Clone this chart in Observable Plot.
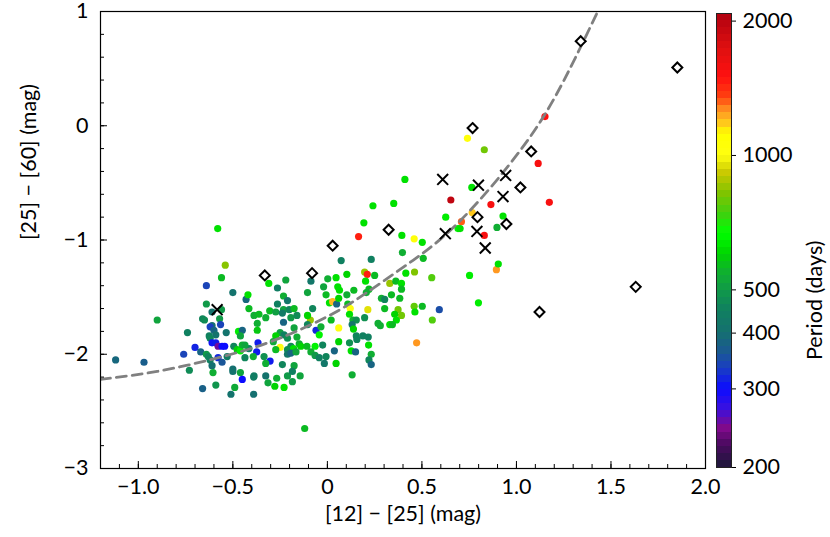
<!DOCTYPE html>
<html><head><meta charset="utf-8">
<script src="https://cdn.jsdelivr.net/npm/d3@7"></script>
<script src="https://cdn.jsdelivr.net/npm/@observablehq/plot@0.6"></script>
<style>
body{margin:0;background:#fff;}
#wrap{position:relative;width:830px;height:537px;}
#wrap svg{position:absolute;top:0;overflow:visible;}
</style></head><body><div id="wrap"></div>
<script>
// colored points: [12]-[25], [25]-[60], period (days)
const ptX = [-1.12,-0.97,-0.90,-0.58,-0.54,-0.56,-0.64,-0.50,-0.64,-0.43,-0.42,-0.61,-0.56,-0.66,-0.65,-0.57,-0.61,-0.62,-0.565,-0.60,
-0.74,-0.535,-0.625,-0.59,-0.47,-0.45,-0.46,-0.62,-0.61,-0.59,-0.578,-0.557,-0.543,-0.70,-0.495,-0.477,-0.46,-0.45,-0.67,-0.76,
-0.64,-0.63,-0.578,-0.53,-0.557,-0.62,-0.61,-0.50,-0.50,-0.605,-0.73,-0.46,-0.45,-0.59,-0.66,-0.49,-0.51,-0.39,-0.39,-0.12,
-0.31,-0.22,-0.264,-0.087,-0.232,-0.211,-0.105,-0.02,-0.264,-0.415,-0.305,-0.273,-0.232,-0.202,-0.176,-0.078,-0.388,-0.362,-0.326,-0.238,
-0.193,-0.161,-0.090,-0.105,-0.232,-0.371,-0.176,-0.105,-0.371,-0.25,-0.273,-0.229,-0.211,-0.161,-0.060,-0.034,-0.043,-0.367,-0.415,-0.436,
-0.286,-0.25,-0.273,-0.193,-0.149,-0.140,-0.211,-0.179,-0.108,-0.065,-0.374,-0.392,-0.335,-0.303,-0.211,-0.193,-0.166,-0.087,-0.065,-0.043,
-0.436,-0.326,-0.238,-0.176,-0.388,-0.326,-0.268,-0.211,-0.144,-0.185,-0.314,-0.278,-0.229,-0.185,
0.165,0.394,0.397,0.073,0.232,0.197,0.211,0.250,0.415,0.103,0.002,0.046,0.202,0.330,0.362,0.392,0.055,0.064,0.140,0.220,
0.206,0.392,-0.007,0.103,0.286,0.303,0.339,0.383,0.011,0.028,0.049,0.060,0.108,0.121,0.214,0.374,0.392,0.303,0.356,0.365,
0.330,0.268,0.280,0.344,0.020,0.117,0.135,0.153,0.197,0.131,0.138,0.060,0.153,0.156,0.188,0.216,0.060,0.117,0.218,-0.025,
0.037,0.126,0.149,0.232,0.220,-0.007,-0.016,0.046,0.232,0.131,
0.410,0.653,0.865,0.241,0.351,0.193,0.626,0.709,0.766,0.691,0.702,0.897,0.830,0.459,0.502,0.507,0.552,0.752,0.894,0.904,
0.592,0.555,0.799,0.472,1.151,0.741,0.830,1.115,1.174,0.764,0.929,0.461,0.502,0.459,0.463];
const ptY = [-2.05,-2.07,-1.70,-0.90,-1.22,-1.33,-1.40,-1.46,-1.56,-1.52,-1.48,-1.63,-1.61,-1.69,-1.70,-1.69,-1.75,-1.76,-1.74,-1.79,
-1.81,-1.81,-1.84,-1.83,-1.80,-1.79,-1.84,-1.86,-1.90,-1.90,-1.93,-1.93,-1.93,-1.94,-1.93,-1.96,-1.97,-1.92,-1.98,-2.00,
-2.00,-2.02,-2.03,-2.02,-2.07,-2.05,-2.10,-2.13,-2.15,-2.16,-2.14,-2.16,-2.22,-2.27,-2.30,-2.29,-2.35,-2.35,-2.20,-2.65,
-1.38,-1.35,-1.42,-1.36,-1.49,-1.53,-1.46,-1.41,-1.56,-1.60,-1.62,-1.63,-1.61,-1.61,-1.60,-1.60,-1.66,-1.65,-1.68,-1.64,
-1.68,-1.66,-1.70,-1.66,-1.72,-1.73,-1.77,-1.74,-1.79,-1.81,-1.84,-1.83,-1.86,-1.85,-1.79,-1.76,-1.83,-1.90,-1.95,-1.92,
-1.89,-1.94,-1.96,-1.93,-1.91,-1.93,-1.96,-1.95,-1.93,-1.93,-1.98,-2.02,-2.02,-2.06,-2.00,-1.99,-1.98,-1.98,-2.01,-2.03,
-2.03,-2.08,-2.09,-2.10,-2.19,-2.19,-2.21,-2.19,-2.19,-2.15,-2.25,-2.28,-2.29,-2.24,
-0.97,-0.96,-1.11,-1.18,-1.17,-1.28,-1.30,-1.31,-1.29,-1.30,-1.34,-1.33,-1.36,-1.38,-1.36,-1.38,-1.41,-1.44,-1.44,-1.43,
-1.46,-1.43,-1.48,-1.48,-1.51,-1.52,-1.48,-1.51,-1.55,-1.54,-1.56,-1.51,-1.56,-1.60,-1.61,-1.61,-1.66,-1.60,-1.65,-1.70,
-1.74,-1.73,-1.75,-1.74,-1.70,-1.65,-1.70,-1.70,-1.68,-1.74,-1.78,-1.77,-1.84,-1.87,-1.84,-1.85,-1.89,-1.90,-1.92,-1.92,
-1.97,-1.97,-1.98,-2.00,-2.05,-2.02,-2.08,-2.08,-2.09,-2.18,
-0.47,-0.65,-0.69,-0.70,-0.68,-0.85,-0.80,-0.84,-0.76,-0.90,-0.90,-0.89,-0.96,-0.99,-1.02,-1.16,-1.33,-1.31,-1.26,-1.21,
-1.61,-1.70,-1.55,-1.90,0.08,-0.11,-0.21,-0.33,-0.67,-0.54,-0.79,-1.28,-1.58,-1.58,-1.63];
const ptP = [385,370,520,620,830,560,340,410,500,385,620,410,500,460,470,500,400,335,340,380,
450,410,450,410,640,380,520,460,305,310,250,300,300,315,460,590,650,540,380,340,
500,460,320,440,360,450,400,400,405,540,470,520,300,490,375,530,410,400,440,560,
620,520,440,420,540,420,520,520,450,560,560,510,520,460,560,460,540,560,540,430,
500,470,850,600,380,540,520,460,580,510,600,450,480,540,320,540,650,310,450,520,
530,1000,560,470,540,600,480,620,560,650,310,540,480,310,420,380,520,540,500,450,
460,540,460,520,440,410,540,500,520,450,520,600,620,500,
1450,620,540,450,450,850,1450,560,620,600,540,620,620,850,560,620,620,620,560,560,
540,560,560,540,540,460,560,560,620,1200,380,600,560,1000,950,800,800,560,600,620,
620,540,540,560,560,620,540,480,480,420,600,1000,460,460,450,450,600,480,620,460,
380,620,380,540,460,460,420,600,380,540,
620,1950,1550,620,620,620,640,1320,1180,640,620,540,1550,1050,620,560,760,640,1250,620,
350,760,640,1250,1500,1050,800,1550,1550,620,620,820,560,780,620];

// open diamonds
const dmX = [-0.331,-0.081,0.028,0.324,0.768,1.078,1.021,0.794,0.947,1.340,1.851,1.631,1.122];
const dmY = [-1.31,-1.29,-1.05,-0.91,-0.02,-0.225,-0.54,-0.80,-0.86,0.74,0.51,-1.41,-1.63];
// crosses
const crX = [-0.583,0.610,0.799,0.943,0.929,0.624,0.791,0.835];
const crY = [-1.61,-0.47,-0.52,-0.435,-0.62,-0.945,-0.925,-1.07];
// dashed curve
const curveX = [-1.2,-0.9,-0.6,-0.3,0.0,0.2,0.4,0.6,0.8,1.0,1.2,1.43];
const curveY = [-2.22,-2.15,-2.04,-1.89,-1.67,-1.47,-1.24,-0.99,-0.66,-0.26,0.24,1.0];

// axis ticks
const xMajor = [-1,-0.5,0,0.5,1,1.5,2];
const yMajor = [-3,-2,-1,0,1];
const cbTicks = [200,300,400,500,1000,2000];
const cbDomain = [200,2080];

// colormap stops (period -> color)
const cStops = [200,225,245,270,300,335,365,400,450,500,545,600,670,740,820,910,1000,1120,1190,1262,1350,1500,1720,2080];
const cColors = ["#1c1838","#4a0a60","#800a8c","#3a10e0","#0c0cff","#1a40c0","#1a5a90","#157070","#108060","#109a48","#10b030","#00d400","#00ff00","#40d010","#80c400","#c8c800","#ffff10","#ffff00","#ffc020","#ff9020","#ff4010","#ff1010","#e01010","#b00010"];

const points = ptX.map((x,i)=>({x, y: ptY[i], p: ptP[i]}));
const diamonds = dmX.map((x,i)=>({x, y: dmY[i]}));
const crosses = crX.map((x,i)=>({x, y: crY[i]}));
const curve = curveX.map((x,i)=>({x, y: curveY[i]}));

const colorOpts = {type:"log", domain: cStops, range: cColors, interpolate: "rgb"};
const FONT = "Lato, 'DejaVu Sans', sans-serif";
const FS = 21.5;
const fmtX = d => d === 0 ? "0" : d.toFixed(1).replace("-", "\u2212");
const fmtY = d => String(d).replace("-", "\u2212");

const xMinor = d3.range(-12, 21).map(i => i / 10);
const yMinor = d3.range(-15, 6).map(i => i / 5);
const frameH = 537 - 11 - 69, frameW = 830 - 100 - 125;

const main = Plot.plot({
  width: 830, height: 537,
  marginLeft: 100, marginRight: 125, marginTop: 11, marginBottom: 69,
  x: {domain: [-1.2, 2.0]},
  y: {domain: [-3, 1]},
  color: colorOpts,
  style: {fontFamily: FONT, fontSize: FS + "px", color: "black", background: "white", overflow: "visible"},
  marks: [
    Plot.dot(points, {x: "x", y: "y", fill: "p", r: 3.6}),
    Plot.line(curve, {x: "x", y: "y", stroke: "#808080", strokeWidth: 2.8, strokeDasharray: "10,6", curve: "natural", clip: true}),
    Plot.dot(diamonds, {x: "x", y: "y", symbol: "diamond2", stroke: "black", fill: "white", strokeWidth: 2, r: 4.5}),
    Plot.dot(crosses, {x: "x", y: "y", symbol: "times", stroke: "black", strokeWidth: 2, r: 5}),
    Plot.tickX(xMinor, {x: d => d, insetTop: frameH - 4, stroke: "black", strokeWidth: 1}),
    Plot.tickX(xMajor, {x: d => d, insetTop: frameH - 7, stroke: "black", strokeWidth: 1}),
    Plot.tickY(yMinor, {y: d => d, insetRight: frameW - 4, stroke: "black", strokeWidth: 1}),
    Plot.tickY(yMajor, {y: d => d, insetRight: frameW - 7, stroke: "black", strokeWidth: 1}),
    Plot.axisX({ticks: xMajor, tickSize: 0, tickPadding: 10, tickFormat: fmtX, label: null}),
    Plot.axisY({ticks: yMajor, tickSize: 0, tickPadding: 12, tickFormat: fmtY, label: null}),
    Plot.frame({stroke: "black", strokeWidth: 1.2}),
    Plot.text(["[12] \u2212 [25] (mag)"], {text: d => d, frameAnchor: "bottom", dy: 52, fontSize: FS}),
    Plot.text(["[25] \u2212 [60] (mag)"], {text: d => d, frameAnchor: "left", dx: -71, rotate: -90, fontSize: FS})
  ]
});

const N = 64;
const bands = d3.range(N).map(i => {
  const lo = cbDomain[0] * Math.pow(cbDomain[1] / cbDomain[0], i / N);
  const hi = cbDomain[0] * Math.pow(cbDomain[1] / cbDomain[0], (i + 1) / N);
  return {lo, hi, mid: Math.sqrt(lo * hi)};
});

const cb = Plot.plot({
  width: 122, height: 537,
  marginLeft: 8, marginRight: 99, marginTop: 13, marginBottom: 70,
  x: {domain: [0, 1], axis: null},
  y: {type: "log", domain: cbDomain, axis: null},
  color: colorOpts,
  style: {fontFamily: FONT, fontSize: FS + "px", color: "black", background: "none"},
  marks: [
    Plot.rect(bands, {x1: 0, x2: 1, y1: "lo", y2: "hi", fill: "mid", shapeRendering: "crispEdges"}),
    Plot.frame({stroke: "#222", strokeWidth: 1}),
    Plot.axisY({anchor: "right", ticks: cbTicks, tickSize: 4, tickPadding: 7, tickFormat: d => String(d), label: null}),
    Plot.text(["Period (days)"], {text: d => d, frameAnchor: "right", dx: 84, rotate: -90, fontSize: FS})
  ]
});

const wrap = document.getElementById("wrap");
main.style.left = "0px";
cb.style.left = "708px";
wrap.appendChild(main);
wrap.appendChild(cb);
</script>
</body></html>
